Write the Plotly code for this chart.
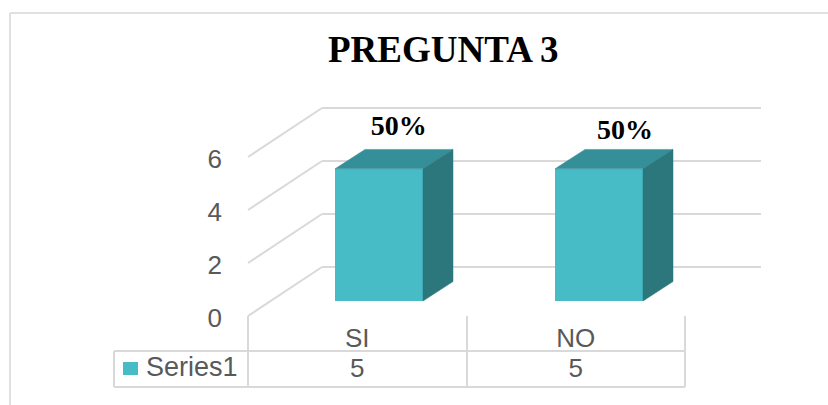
import plotly.graph_objects as go

categories = ["SI", "NO"]
values = [5, 5]
percent_labels = ["50%", "50%"]
y_ticks = [0, 2, 4, 6]
series_name = "Series1"
title_text = "PREGUNTA 3"

W, H = 828, 405
FRONT, TOP, SIDE = "#47BCC7", "#358F98", "#2B777C"
GRID, TEXT = "#D9D9D9", "#595959"
SANS, SERIF = "Liberation Sans", "Liberation Serif"
UNIT = 26.5           # pixels per value unit
BAR_HALF = 0.2        # half bar width, in category units
DEPTH_X = 30 / 220    # bar depth, in category units
DEPTH_Y = 19.5 / UNIT # bar depth, in value units


def px(x):
    return x / W


def py(y):
    return 1 - y / H


fig = go.Figure()

# back wall gridlines (first subplot, so they stay behind the bars)
fig.add_trace(go.Scatter(x=[0], y=[0], mode="markers", marker_opacity=0,
                         xaxis="x", yaxis="y", showlegend=False, hoverinfo="skip"))

# bars and their 3D faces
x_pos = list(range(len(categories)))
for i, v in zip(x_pos, values):
    l, r = i - BAR_HALF, i + BAR_HALF
    fig.add_trace(go.Scatter(
        x=[l, l + DEPTH_X, r + DEPTH_X, r, l],
        y=[v, v + DEPTH_Y, v + DEPTH_Y, v, v],
        mode="lines", fill="toself", fillcolor=TOP, line=dict(color=TOP, width=0.5),
        xaxis="x2", yaxis="y2", showlegend=False, hoverinfo="skip"))
    fig.add_trace(go.Scatter(
        x=[r, r + DEPTH_X, r + DEPTH_X, r, r],
        y=[0, DEPTH_Y, v + DEPTH_Y, v, 0],
        mode="lines", fill="toself", fillcolor=SIDE, line=dict(color=SIDE, width=0.5),
        xaxis="x2", yaxis="y2", showlegend=False, hoverinfo="skip"))
fig.add_trace(go.Bar(x=x_pos, y=values, width=2 * BAR_HALF, marker_color=FRONT,
                     marker_line_width=0, xaxis="x2", yaxis="y2", showlegend=False))
fig.add_trace(go.Scatter(
    x=[0.09, 1.118], y=[6.53, 6.38], text=[f"<b>{t}</b>" for t in percent_labels], mode="text",
    textfont=dict(family=SERIF, size=28, color="#000000"), cliponaxis=False,
    xaxis="x2", yaxis="y2", showlegend=False, hoverinfo="skip"))

# data table: category row and value row, in the same axes as the front tick labels
ROW_CATEGORY, ROW_VALUE = -0.85, -2.01
fig.add_trace(go.Scatter(
    x=categories, y=[ROW_CATEGORY] * len(categories), text=categories, mode="text",
    textfont=dict(family=SANS, size=26, color=TEXT), cliponaxis=False,
    xaxis="x3", yaxis="y3", showlegend=False, hoverinfo="skip"))
fig.add_trace(go.Scatter(
    x=categories, y=[ROW_VALUE] * len(categories), text=[str(v) for v in values], mode="text",
    textfont=dict(family=SANS, size=26, color=TEXT), cliponaxis=False,
    xaxis="x3", yaxis="y3", showlegend=False, hoverinfo="skip"))

# oblique side wall lines and data table rules
LEFT, BACK_LEFT, FLOOR_FRONT, FLOOR_BACK = 248, 322, 316, 267
LABEL_FLOOR = FLOOR_FRONT + 1.5   # tick labels sit a little below their wall lines
TABLE_BOTTOM = 392
shapes = []
for t in y_ticks:
    shapes.append(dict(type="line", xref="paper", yref="paper", layer="below",
                       x0=px(LEFT), y0=py(FLOOR_FRONT - t * UNIT),
                       x1=px(BACK_LEFT), y1=py(FLOOR_BACK - t * UNIT),
                       line=dict(color=GRID, width=2)))
table_lines = [
    (114, 351, 685, 351), (114, 387, 685, 387), (114, 351, 114, 387),
    (248, 316, 248, 387), (467, 316, 467, 387), (685, 316, 685, 387),
]
for x0, y0, x1, y1 in table_lines:
    shapes.append(dict(type="line", xref="paper", yref="paper",
                       x0=px(x0), y0=py(y0), x1=px(x1), y1=py(y1),
                       line=dict(color=GRID, width=2)))
# outer frame, running off the right and bottom of the picture
for x0, y0, x1, y1 in [(10, 13, W, 13), (10, 13, 10, H)]:
    shapes.append(dict(type="line", xref="paper", yref="paper",
                       x0=px(x0), y0=py(y0), x1=px(x1), y1=py(y1),
                       line=dict(color="#E0E0E0", width=2)))
# legend key
shapes.append(dict(type="rect", xref="paper", yref="paper",
                   x0=px(123), y0=py(375), x1=px(138), y1=py(362),
                   fillcolor=FRONT, line_width=0))

annotations = [
    dict(text=f"<b>{title_text}</b>", xref="paper", yref="paper", x=px(443), y=py(49),
         xanchor="center", yanchor="middle", showarrow=False,
         font=dict(family=SERIF, size=37, color="#000000")),
    dict(text=series_name, xref="paper", yref="paper", x=px(143.5), y=py(367),
         xanchor="left", yanchor="middle", showarrow=False,
         font=dict(family=SANS, size=27, color=TEXT)),
]

fig.update_layout(
    width=W, height=H, margin=dict(l=0, r=0, t=0, b=0, autoexpand=False),
    paper_bgcolor="white", plot_bgcolor="rgba(0,0,0,0)",
    showlegend=False, shapes=shapes, annotations=annotations,
    xaxis=dict(domain=[px(322), px(761)], range=[0, 1], visible=False),
    # a half-unit of slack at each end keeps the 0 and 6 gridlines drawn
    yaxis=dict(domain=[py(267 + UNIT / 2), py(108 - UNIT / 2)], range=[-0.5, 6.5],
               tickvals=y_ticks, showticklabels=False, showgrid=True, gridcolor=GRID,
               gridwidth=2, zeroline=False, showline=False, ticks=""),
    xaxis2=dict(domain=[px(269), px(709)], range=[-0.5, 1.5], visible=False),
    yaxis2=dict(domain=[py(301), py(116)], range=[0, 7], visible=False),
    xaxis3=dict(domain=[px(248), px(685)], range=[-0.5, 1.5], type="category",
                categoryorder="array", categoryarray=categories, anchor="y3",
                visible=False),
    yaxis3=dict(domain=[py(TABLE_BOTTOM), py(LABEL_FLOOR - 6 * UNIT)],
                range=[(LABEL_FLOOR - TABLE_BOTTOM) / UNIT, 6], tickvals=y_ticks,
                anchor="free", position=px(222),
                showgrid=False, zeroline=False, showline=False, ticks="",
                tickfont=dict(family=SANS, size=26, color=TEXT)),
)

fig.write_html("out.html", config={"displayModeBar": False},
               post_script="document.body.style.margin='0';")
